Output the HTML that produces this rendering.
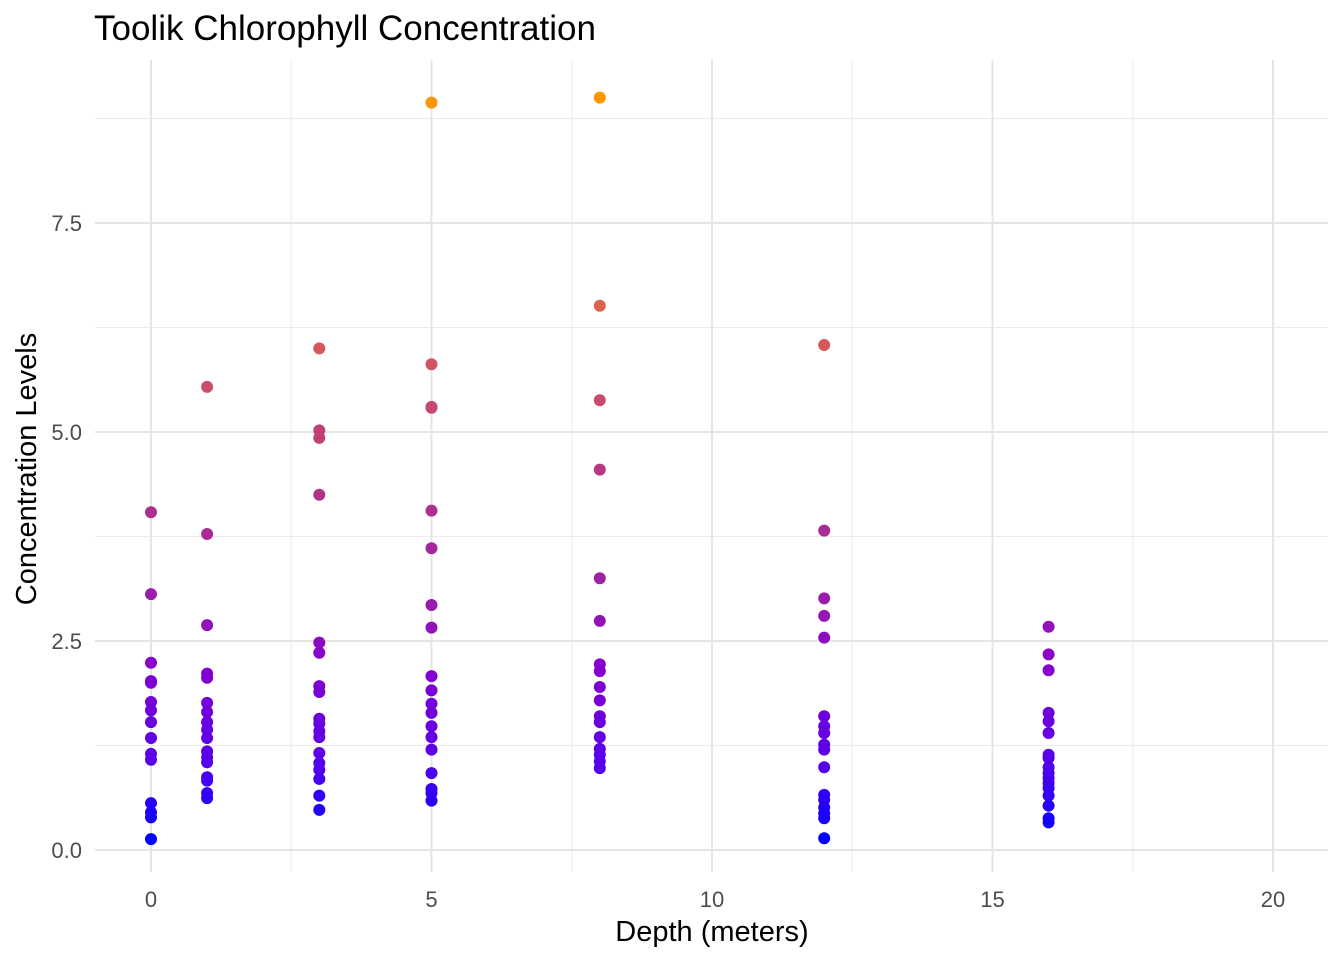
<!DOCTYPE html>
<html><head><meta charset="utf-8"><style>
html,body{margin:0;padding:0;background:#fff}
svg{display:block;font-family:"Liberation Sans",Arial,sans-serif}
</style></head><body>
<svg id="chart" width="1344" height="960">
<text x="94" y="40" font-size="35" fill="#000">Toolik Chlorophyll Concentration</text>
<g id="grid"></g>
<g id="ticks"></g>
<g id="points"></g>
<text x="712" y="941" font-size="29" text-anchor="middle" fill="#000">Depth (meters)</text>
<text transform="translate(36,469) rotate(-90)" font-size="29" text-anchor="middle" fill="#000">Concentration Levels</text>
</svg>
<script>
const depths = [0, 1, 3, 5, 8, 12, 16];
const values0 = [4.04,3.06,2.24,2.02,2.0,1.77,1.67,1.53,1.34,1.15,1.08,0.56,0.45,0.39,0.13];
const values1 = [5.54,3.78,2.69,2.11,2.06,1.76,1.65,1.53,1.44,1.34,1.18,1.11,1.05,0.87,0.83,0.68,0.62];
const values3 = [6.0,5.02,4.93,4.25,2.48,2.36,1.96,1.89,1.57,1.51,1.42,1.35,1.16,1.04,0.96,0.85,0.65,0.48];
const values5 = [8.94,5.81,5.30,5.29,4.06,3.61,2.93,2.66,2.08,1.91,1.75,1.64,1.48,1.35,1.2,0.92,0.73,0.68,0.59];
const values8 = [9.0,6.51,5.38,4.55,3.25,2.74,2.22,2.14,1.95,1.79,1.6,1.53,1.35,1.21,1.14,1.06,0.98];
const values12 = [6.04,3.82,3.01,2.8,2.54,1.6,1.48,1.4,1.26,1.2,0.99,0.66,0.6,0.51,0.44,0.38,0.14];
const values16 = [2.67,2.34,2.15,1.64,1.54,1.4,1.14,1.1,0.99,0.92,0.86,0.8,0.74,0.65,0.53,0.38,0.33];
const series = [values0, values1, values3, values5, values8, values12, values16];
const xTicks = [0, 5, 10, 15, 20];
const yTicks = [0, 2.5, 5, 7.5];
const yTickLabels = ["0.0", "2.5", "5.0", "7.5"];

const NS = "http://www.w3.org/2000/svg";
const X = v => 151 + v * (1273 - 151) / 20;
const Y = v => 850 - v * (850 - 223) / 7.5;
const L = 95, R = 1328, T = 60, B = 872;
function mk(tag, attrs, parent) {
  const e = document.createElementNS(NS, tag);
  for (const k in attrs) e.setAttribute(k, attrs[k]);
  parent.appendChild(e);
  return e;
}
const grid = document.getElementById('grid');
const ticks = document.getElementById('ticks');
for (let v = 2.5; v <= 17.5; v += 5) {
  const l = mk('line', {x1: X(v), x2: X(v), y1: T, y2: B, stroke: '#ebebeb', 'stroke-width': 1}, grid);
  
  
}
for (let v = 1.25; v <= 8.75; v += 2.5) {
  const l = mk('line', {x1: L, x2: R, y1: Y(v), y2: Y(v), stroke: '#ebebeb', 'stroke-width': 1}, grid);
  
  
}
xTicks.forEach(v => {
  const l = mk('line', {x1: X(v), x2: X(v), y1: T, y2: B, stroke: '#e5e5e5', 'stroke-width': 2}, grid);
  
  
  const t = mk('text', {x: X(v), y: 907, 'font-size': 22, 'text-anchor': 'middle', fill: '#4d4d4d'}, ticks);
  t.textContent = v;
  
  
});
yTicks.forEach((v, i) => {
  const l = mk('line', {x1: L, x2: R, y1: Y(v), y2: Y(v), stroke: '#e5e5e5', 'stroke-width': 2}, grid);
  
  
  const t = mk('text', {x: 82, y: Y(v) + 8, 'font-size': 22, 'text-anchor': 'end', fill: '#4d4d4d'}, ticks);
  t.textContent = yTickLabels[i];
  
  
});
const stopVals = [0.13, 1.0, 2.2, 3.0, 4.5, 6.0, 9.0];
const stopCols = [[0,0,255],[85,0,235],[135,0,205],[152,30,172],[182,55,130],[212,88,92],[255,150,0]];
function color(v) {
  let i = 0;
  while (i < stopVals.length - 2 && v > stopVals[i+1]) i++;
  let f = (v - stopVals[i]) / (stopVals[i+1] - stopVals[i]);
  f = Math.max(0, Math.min(1, f));
  const c = stopCols[i].map((a, k) => Math.round(a + (stopCols[i+1][k] - a) * f));
  return `rgb(${c[0]},${c[1]},${c[2]})`;
}
const pts = document.getElementById('points');
series.forEach((vals, si) => {
  vals.forEach(v => {
    const c = mk('circle', {cx: X(depths[si]), cy: Y(v), r: 6, fill: color(v)}, pts);
    
    
  });
});
</script>
</body></html>
